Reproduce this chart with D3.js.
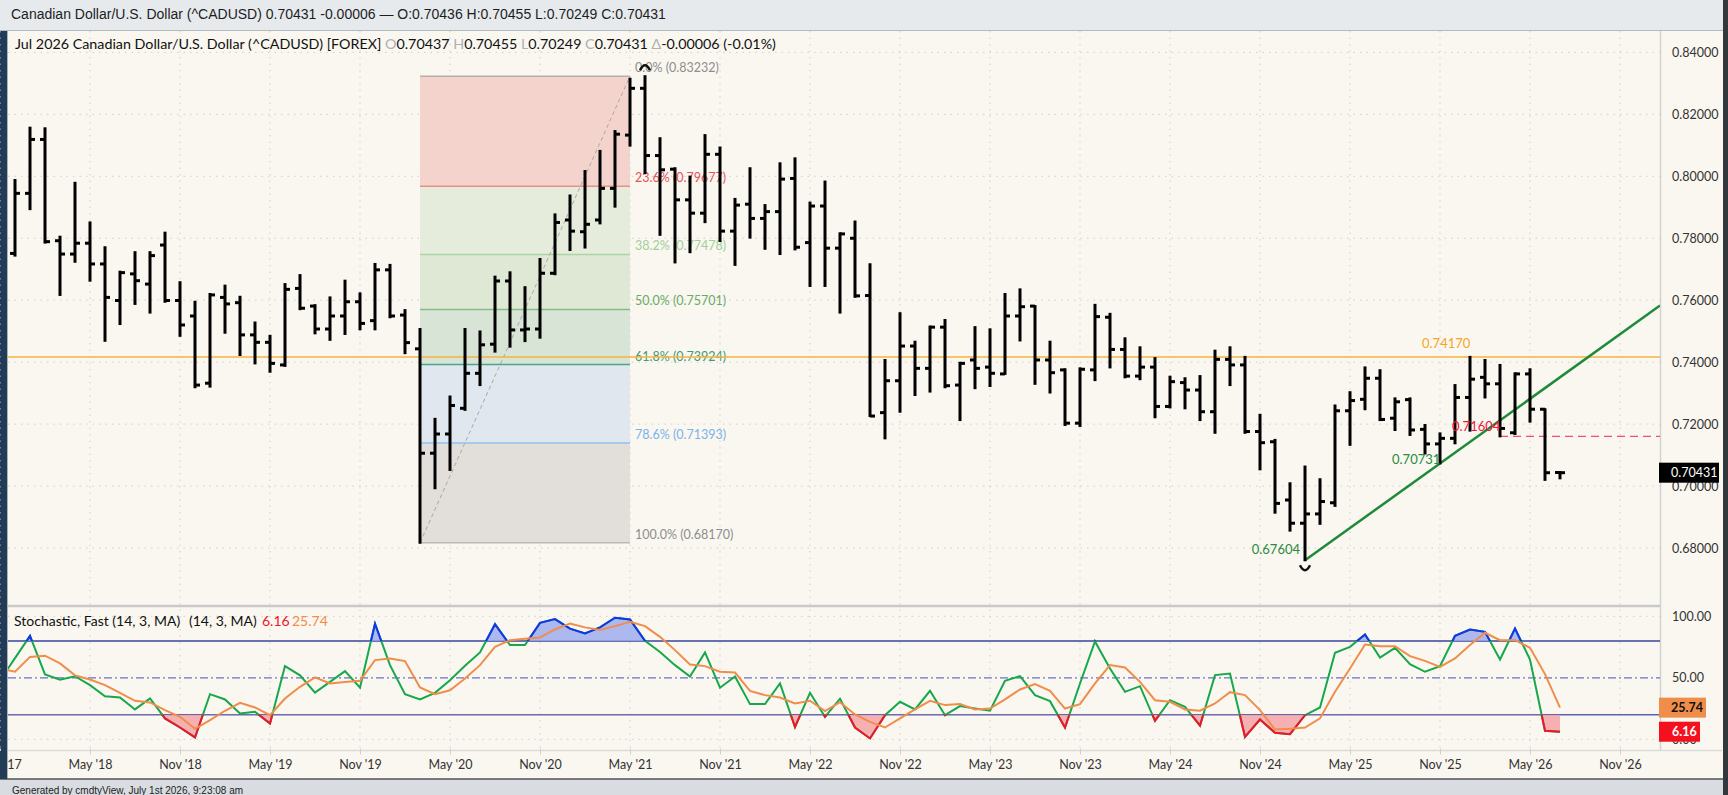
<!DOCTYPE html>
<html>
<head>
<meta charset="utf-8">
<script src="https://cdn.jsdelivr.net/npm/d3@7"></script>
<style>
  body { margin: 0; background: #d9dde1; overflow: hidden; }
  svg { display: block; font-family: Lato, "Liberation Sans", sans-serif; }
</style>
</head>
<body>
<svg id="chart" width="1728" height="795"></svg>
<script>
// monthly bars, Dec 2017 .. Jul 2026 (month index 1..104, Nov 2017 = 0)
const barOpen = [0.7751,0.7945,0.8119,0.7792,0.7749,0.7784,0.7717,0.7599,0.7685,0.7652,0.7778,0.7599,0.7549,0.7332,0.7609,0.7592,0.7488,0.7464,0.7391,0.7638,0.7581,0.7507,0.7549,0.7595,0.7534,0.7698,0.7552,0.7443,0.7106,0.7168,0.7251,0.7364,0.7458,0.7662,0.7504,0.7507,0.7687,0.7859,0.7821,0.7859,0.7961,0.8133,0.8284,0.8067,0.8023,0.7924,0.7881,0.8071,0.7823,0.7910,0.7864,0.7886,0.7993,0.7786,0.7904,0.7768,0.7800,0.7615,0.7237,0.7340,0.7452,0.7380,0.7513,0.7326,0.7407,0.7384,0.7362,0.7549,0.7581,0.7407,0.7375,0.7203,0.7375,0.7545,0.7441,0.7355,0.7384,0.7257,0.7334,0.7310,0.7240,0.7409,0.7391,0.7176,0.7143,0.6955,0.6880,0.6910,0.6946,0.7243,0.7280,0.7348,0.7219,0.7279,0.7183,0.7136,0.7154,0.7286,0.7351,0.7330,0.7172,0.7362,0.7248,0.70437];
const barHigh = [0.7988,0.8157,0.8155,0.7805,0.7979,0.7851,0.7771,0.7692,0.7755,0.7755,0.7818,0.7658,0.7595,0.7620,0.7647,0.7611,0.7528,0.7485,0.7652,0.7681,0.7584,0.7609,0.7663,0.7622,0.7717,0.7714,0.7568,0.7507,0.7217,0.7289,0.7507,0.7499,0.7676,0.7690,0.7642,0.7733,0.7877,0.7938,0.8017,0.8082,0.8146,0.8315,0.83232,0.8123,0.8026,0.7999,0.8133,0.8093,0.7927,0.8026,0.7907,0.8042,0.8058,0.7915,0.7983,0.7816,0.7854,0.7716,0.7407,0.7558,0.7466,0.7515,0.7536,0.7398,0.7513,0.7506,0.7620,0.7635,0.7581,0.7466,0.7377,0.7380,0.7585,0.7556,0.7477,0.7448,0.7413,0.7353,0.7348,0.7355,0.7437,0.7448,0.7417,0.7230,0.7149,0.7009,0.7063,0.7022,0.7260,0.7303,0.7383,0.7374,0.7283,0.7283,0.7197,0.7170,0.7326,0.7417,0.7407,0.7391,0.7364,0.7377,0.7248,0.70455];
const barLow = [0.7744,0.7894,0.7786,0.7617,0.7724,0.7663,0.7469,0.7523,0.7588,0.7560,0.7595,0.7485,0.7319,0.7321,0.7495,0.7423,0.7396,0.7369,0.7388,0.7571,0.7493,0.7472,0.7491,0.7506,0.7506,0.7545,0.7429,0.6817,0.6993,0.7052,0.7246,0.7326,0.7434,0.7450,0.7468,0.7479,0.7684,0.7762,0.7770,0.7848,0.7902,0.8099,0.8010,0.7811,0.7722,0.7755,0.7852,0.7791,0.7714,0.7802,0.7766,0.7749,0.7764,0.7646,0.7646,0.7560,0.7611,0.7226,0.7154,0.7240,0.7294,0.7305,0.7319,0.7213,0.7316,0.7323,0.7362,0.7470,0.7330,0.7302,0.7197,0.7194,0.7342,0.7383,0.7351,0.7345,0.7222,0.7254,0.7251,0.7213,0.7172,0.7326,0.7172,0.7054,0.6914,0.6856,0.67604,0.6878,0.6936,0.7133,0.7248,0.7213,0.7181,0.7165,0.7105,0.70731,0.7138,0.7179,0.7286,0.71604,0.7168,0.7208,0.7020,0.70249];
const barClose = [0.7945,0.8119,0.7789,0.7749,0.7784,0.7717,0.7609,0.7689,0.7663,0.7744,0.7599,0.7520,0.7326,0.7617,0.7588,0.7488,0.7464,0.7396,0.7635,0.7574,0.7507,0.7549,0.7595,0.7525,0.7698,0.7549,0.7463,0.7106,0.7168,0.7260,0.7364,0.7456,0.7662,0.7504,0.7507,0.7687,0.7851,0.7823,0.7845,0.7961,0.8136,0.8284,0.8067,0.8021,0.7924,0.7881,0.8071,0.7823,0.7907,0.7864,0.7886,0.7991,0.7771,0.7904,0.7768,0.7814,0.7614,0.7226,0.7340,0.7452,0.7380,0.7513,0.7324,0.7396,0.7380,0.7364,0.7549,0.7579,0.7407,0.7366,0.7203,0.7377,0.7547,0.7441,0.7355,0.7384,0.7257,0.7337,0.7310,0.7240,0.7409,0.7391,0.7176,0.7140,0.6944,0.6880,0.6910,0.6950,0.7243,0.7276,0.7348,0.7215,0.7272,0.7181,0.7136,0.7154,0.7286,0.7345,0.7330,0.7186,0.7362,0.7248,0.7043,0.70431];

// fast stochastic, Nov 2017 .. Jul 2026 (month index 0..104)
const stochK = [48,66,84,52.7,48.4,51.3,44,35,34,24.3,33.2,17,9.6,1.5,36.7,32.4,21,22.4,12.9,59.5,52,38,46.7,55.4,42,94,60.3,36.7,32.4,37.8,48,59.8,70.6,93.6,76.6,76.6,94.7,97.7,90,86,91,98.8,97.4,80,71,60.3,51,70.6,41.9,51,28.6,28.6,45.4,10,37.8,18.3,33,9.6,0.7,19.6,30.5,24.3,39.4,19.6,27,25,23.2,47.6,51.3,35.9,31,9.6,45.4,79.5,57.6,38.6,43.2,15,31.8,26.4,11.2,52.2,53.5,2,16.1,5.3,4.2,19.6,25.9,70.3,75.2,85.2,66.5,74.4,61.1,54.9,59.5,84.1,89.3,87.4,64.9,90,64.9,6.9,6.16];
const stochD = [57.6,55,67,68,61.7,52,48.6,44,37.8,31.3,30,23.7,18.3,8.5,15.6,23.2,29.7,25.9,19.6,33.2,42.7,50.3,45.4,46.5,47.6,64.4,65.7,63.6,42.1,36.7,39.9,49.5,60.3,75.2,80.6,81.7,82.8,89.3,94.2,91,88.8,92,95.5,92,83.3,72.5,60.8,59.5,54.9,54.3,39.4,35.9,34,29.1,31.3,22.9,30.2,20.2,14.2,9.6,17,24.3,31.3,27.8,28.6,24.3,25,32.4,40.5,44.9,39.4,25,28.6,45.4,60.3,58.4,46.7,31.8,30.5,24.3,23.2,29.1,38.3,35.9,23.7,8,8.5,9.6,17,38.6,57.6,77.1,75.7,75.7,67.6,63.8,58.9,65.7,76.6,86.6,80.6,80.6,74.4,53,25.74];

const priceTicks = [0.68, 0.70, 0.72, 0.74, 0.76, 0.78, 0.80, 0.82, 0.84];
const stochTicks = [0, 50, 100];
const monthTicks = d3.range(0, 109, 6);

// fibonacci retracement, Mar 2020 low to May 2021
const fibStart = 28, fibEnd = 42;
const fibRatios = ["0.0%", "23.6%", "38.2%", "50.0%", "61.8%", "78.6%", "100.0%"];
const fibPrices = [0.83232, 0.79677, 0.77478, 0.75701, 0.73924, 0.71393, 0.68170];

const resistance = 0.74170;
const breakLevel = { m: 100, p: 0.71604 };
const trendLow = { m: 87, p: 0.67604 };
const trendNext = { m: 96, p: 0.70731 };
const swingHigh = { m: 43, p: 0.83232 };

const lastPrice = 0.70431;
const lastK = 6.16, lastD = 25.74;

const svg = d3.select("#chart");
const left = 8, right = 1660;
const priceTop = 31, priceBottom = 606, stochBottom = 750.5;

const x = d3.scaleLinear().domain([0, 108]).range([0, 1620]);
const y = d3.scaleLinear().domain([0.68, 0.84]).range([548, 52.4]);
const ys = d3.scaleLinear().domain([0, 100]).range([739.3, 616.3]);

// frame
svg.append("rect").attr("width", 1728).attr("height", 795).attr("fill", "#d9dde1");
svg.append("rect").attr("x", 0).attr("y", 0).attr("width", 1728).attr("height", 31).attr("fill", "#e7eaed");
svg.append("line").attr("x1", 0).attr("x2", 1728).attr("y1", 30.5).attr("y2", 30.5).attr("stroke", "#b4b9be");
svg.append("rect").attr("x", 0).attr("y", 31).attr("width", 1723).attr("height", 748).attr("fill", "#f9f7f0");
svg.append("rect").attr("x", 0).attr("y", 31).attr("width", 7).attr("height", 748).attr("fill", "#223c58");
svg.append("line").attr("x1", 7.5).attr("x2", 7.5).attr("y1", 31).attr("y2", 779).attr("stroke", "#aab2ba");
svg.append("rect").attr("x", 1723).attr("y", 0).attr("width", 5).attr("height", 795).attr("fill", "#33383d");
svg.append("line").attr("x1", 0).attr("x2", 1723).attr("y1", 779).attr("y2", 779).attr("stroke", "#50555a").attr("stroke-width", 1.5);

svg.append("text").attr("x", 11).attr("y", 19)
  .attr("font-family", "Liberation Sans, Arial, sans-serif").attr("font-size", 14).attr("fill", "#1d1d1d")
  .text("Canadian Dollar/U.S. Dollar (^CADUSD) 0.70431 -0.00006 \u2014 O:0.70436 H:0.70455 L:0.70249 C:0.70431");

svg.append("text").attr("x", 12).attr("y", 794)
  .attr("font-family", "Liberation Sans, Arial, sans-serif").attr("font-size", 10).attr("fill", "#222")
  .text("Generated by cmdtyView, July 1st 2026, 9:23:08 am");

// panel borders
svg.append("line").attr("x1", left).attr("x2", right).attr("y1", priceBottom).attr("y2", priceBottom)
  .attr("stroke", "#c9c9c9").attr("stroke-width", 2.5);
svg.append("line").attr("x1", left).attr("x2", 1722).attr("y1", stochBottom).attr("y2", stochBottom)
  .attr("stroke", "#dadada").attr("stroke-width", 1.5);
svg.append("line").attr("x1", right + 0.5).attr("x2", right + 0.5).attr("y1", 31).attr("y2", stochBottom)
  .attr("stroke", "#d2d2d2").attr("stroke-width", 1.5);

const defs = svg.append("defs");
defs.append("clipPath").attr("id", "clipPrice").append("rect")
  .attr("x", left).attr("y", priceTop).attr("width", right - left).attr("height", priceBottom - priceTop - 2);
defs.append("clipPath").attr("id", "clipStoch").append("rect")
  .attr("x", left).attr("y", priceBottom + 1).attr("width", right - left).attr("height", stochBottom - priceBottom - 2);
defs.append("clipPath").attr("id", "clipOver").append("rect")
  .attr("x", left).attr("y", priceBottom).attr("width", right - left).attr("height", ys(80) - priceBottom);
defs.append("clipPath").attr("id", "clipUnder").append("rect")
  .attr("x", left).attr("y", ys(20)).attr("width", right - left).attr("height", stochBottom - ys(20));

// grid
const grid = svg.append("g").attr("stroke", "#cfcfcf").attr("stroke-dasharray", "1.5,5");
grid.selectAll(".vg").data(monthTicks).enter().append("line")
  .attr("x1", d => x(d)).attr("x2", d => x(d)).attr("y1", priceTop).attr("y2", stochBottom);
grid.selectAll(".hg").data(priceTicks).enter().append("line")
  .attr("x1", left).attr("x2", right).attr("y1", d => y(d)).attr("y2", d => y(d));
grid.selectAll(".sg").data([0, 100]).enter().append("line")
  .attr("x1", left).attr("x2", right).attr("y1", d => ys(d)).attr("y2", d => ys(d));

// price panel
const price = svg.append("g").attr("clip-path", "url(#clipPrice)");

const fibFill = ["#f4d3cd", "#e6ecdb", "#dfe8d4", "#d7e4d6", "#e0e7ee", "#e2dfdb"];
const fibLine = ["#b5aeac", "#e8918a", "#a9d5a2", "#86bb84", "#4ea48a", "#90c1f0", "#bdb8b4"];
const fibText = ["#8d8d8d", "#e8505a", "#9fcf98", "#6aaa68", "#3e9a78", "#79b3ec", "#8d8d8d"];

price.selectAll(".fibband").data(fibFill).enter().append("rect")
  .attr("x", x(fibStart)).attr("width", x(fibEnd) - x(fibStart))
  .attr("y", (d, i) => y(fibPrices[i]))
  .attr("height", (d, i) => y(fibPrices[i + 1]) - y(fibPrices[i]))
  .attr("fill", d => d);
price.selectAll(".fibline").data(fibPrices).enter().append("line")
  .attr("x1", x(fibStart)).attr("x2", x(fibEnd))
  .attr("y1", d => y(d)).attr("y2", d => y(d))
  .attr("stroke", (d, i) => fibLine[i]).attr("stroke-width", 1.5);
price.append("line")
  .attr("x1", x(fibStart)).attr("y1", y(fibPrices[6]))
  .attr("x2", x(fibEnd)).attr("y2", y(fibPrices[0]))
  .attr("stroke", "#a8a8a8").attr("stroke-dasharray", "4,3");
price.selectAll(".fibtext").data(fibPrices).enter().append("text")
  .attr("x", x(fibEnd) + 5).attr("y", d => y(d) - 4)
  .attr("font-size", 12.5).attr("fill", (d, i) => fibText[i])
  .text((d, i) => `${fibRatios[i]} (${d.toFixed(5)})`);

// resistance
price.append("line").attr("x1", left).attr("x2", right)
  .attr("y1", y(resistance)).attr("y2", y(resistance))
  .attr("stroke", "#f6b53c").attr("stroke-width", 1.5);
price.append("text").attr("x", 1422).attr("y", y(resistance) - 9)
  .attr("font-size", 13).attr("fill", "#f5a623").text(resistance.toFixed(5));

// break level
price.append("line").attr("x1", x(breakLevel.m)).attr("x2", right)
  .attr("y1", y(breakLevel.p)).attr("y2", y(breakLevel.p))
  .attr("stroke", "#f0506e").attr("stroke-width", 1.3).attr("stroke-dasharray", "8,5");

// trend line
const slope = (trendNext.p - trendLow.p) / (trendNext.m - trendLow.m);
const endM = x.invert(right);
price.append("line")
  .attr("x1", x(trendLow.m)).attr("y1", y(trendLow.p))
  .attr("x2", x(endM)).attr("y2", y(trendLow.p + slope * (endM - trendLow.m)))
  .attr("stroke", "#1f8a3a").attr("stroke-width", 2.5);

// OHLC bars
const bars = price.append("g").attr("stroke", "#000").attr("stroke-width", 3);
barOpen.forEach((o, i) => {
  const m = i + 1, cx = x(m);
  bars.append("line").attr("x1", cx).attr("x2", cx).attr("y1", y(barHigh[i]) - 1).attr("y2", y(barLow[i]) + 1);
  bars.append("line").attr("x1", cx - 5).attr("x2", cx).attr("y1", y(o)).attr("y2", y(o));
  bars.append("line").attr("x1", cx).attr("x2", cx + 5).attr("y1", y(barClose[i])).attr("y2", y(barClose[i]));
});

// swing markers
price.append("path")
  .attr("d", `M${x(swingHigh.m) - 5},${y(swingHigh.p) - 6} Q${x(swingHigh.m)},${y(swingHigh.p) - 16} ${x(swingHigh.m) + 5},${y(swingHigh.p) - 6}`)
  .attr("fill", "none").attr("stroke", "#111").attr("stroke-width", 2.5);
price.append("path")
  .attr("d", `M${x(trendLow.m) - 5},${y(trendLow.p) + 5} Q${x(trendLow.m)},${y(trendLow.p) + 15} ${x(trendLow.m) + 5},${y(trendLow.p) + 5}`)
  .attr("fill", "none").attr("stroke", "#111").attr("stroke-width", 2.5);

price.append("text").attr("x", x(trendLow.m) - 5).attr("y", y(trendLow.p) - 6)
  .attr("text-anchor", "end").attr("font-size", 13).attr("fill", "#2a8a3e").text(trendLow.p.toFixed(5));
price.append("text").attr("x", 1392).attr("y", y(trendNext.p) + 1)
  .attr("font-size", 13).attr("fill", "#2a8a3e").text(trendNext.p.toFixed(5));
price.append("text").attr("x", 1452).attr("y", y(breakLevel.p) - 5)
  .attr("font-size", 13).attr("fill", "#f0143c").text(breakLevel.p.toFixed(5));

// price legend
const leg = svg.append("text").attr("x", 15).attr("y", 49).attr("font-size", 14.3).attr("fill", "#111");
[["Jul 2026 Canadian Dollar/U.S. Dollar (^CADUSD) [FOREX] ", "#111"],
 ["O", "#b0b0b0"], ["0.70437 ", "#111"], ["H", "#b0b0b0"], ["0.70455 ", "#111"],
 ["L", "#b0b0b0"], ["0.70249 ", "#111"], ["C", "#b0b0b0"], ["0.70431 ", "#111"],
 ["\u0394", "#b0b0b0"], ["-0.00006 (-0.01%)", "#111"]]
  .forEach(([t, c]) => leg.append("tspan").attr("fill", c).text(t));

// price axis
const yAxis = svg.append("g").attr("transform", `translate(${right},0)`)
  .call(d3.axisRight(y).tickValues(priceTicks).tickFormat(d3.format(".5f")).tickSize(0).tickPadding(12));
yAxis.select(".domain").remove();
yAxis.selectAll("text").attr("font-family", "Lato, sans-serif").attr("font-size", 12.5).attr("fill", "#333");

const lp = svg.append("g").attr("transform", `translate(${right - 1},${y(lastPrice)})`);
lp.append("rect").attr("x", 0).attr("y", -10).attr("width", 60).attr("height", 20).attr("fill", "#000");
lp.append("text").attr("x", 12).attr("y", 4.5).attr("font-family", "Lato, sans-serif")
  .attr("font-size", 12.5).attr("fill", "#fff").text(lastPrice.toFixed(5));

// stochastic panel
const stoch = svg.append("g").attr("clip-path", "url(#clipStoch)");
stoch.append("line").attr("x1", left).attr("x2", right).attr("y1", ys(80)).attr("y2", ys(80))
  .attr("stroke", "#37449e").attr("stroke-width", 1.5);
stoch.append("line").attr("x1", left).attr("x2", right).attr("y1", ys(20)).attr("y2", ys(20))
  .attr("stroke", "#5d62ad").attr("stroke-width", 1.5);
stoch.append("line").attr("x1", left).attr("x2", right).attr("y1", ys(50)).attr("y2", ys(50))
  .attr("stroke", "#6b72c4").attr("stroke-width", 1.3).attr("stroke-dasharray", "8,3,2,3");

const idx = d3.range(stochK.length);
const areaOver = d3.area().x(i => x(i)).y0(ys(80)).y1(i => ys(stochK[i]));
const areaUnder = d3.area().x(i => x(i)).y0(ys(20)).y1(i => ys(stochK[i]));
const kLine = d3.line().x(i => x(i)).y(i => ys(stochK[i]));
const dLine = d3.line().x(i => x(i)).y(i => ys(stochD[i]));

stoch.append("path").attr("clip-path", "url(#clipOver)").attr("d", areaOver(idx))
  .attr("fill", "#9aa9ee").attr("fill-opacity", 0.8);
stoch.append("path").attr("clip-path", "url(#clipUnder)").attr("d", areaUnder(idx))
  .attr("fill", "#f7a3a6").attr("fill-opacity", 0.85);
stoch.append("path").attr("d", kLine(idx)).attr("fill", "none").attr("stroke", "#16a84a").attr("stroke-width", 2);
stoch.append("path").attr("clip-path", "url(#clipOver)").attr("d", kLine(idx))
  .attr("fill", "none").attr("stroke", "#1534f0").attr("stroke-width", 2);
stoch.append("path").attr("clip-path", "url(#clipUnder)").attr("d", kLine(idx))
  .attr("fill", "none").attr("stroke", "#f0142c").attr("stroke-width", 2);
stoch.append("path").attr("d", dLine(idx)).attr("fill", "none").attr("stroke", "#f08d4a").attr("stroke-width", 2);

const sleg = svg.append("g").attr("font-size", 14);
sleg.append("text").attr("x", 14).attr("y", 626).attr("fill", "#111").text("Stochastic, Fast (14, 3, MA)");
sleg.append("text").attr("x", 189).attr("y", 626).attr("fill", "#111").text("(14, 3, MA)");
sleg.append("text").attr("x", 262).attr("y", 626).attr("fill", "#f0142c").text(lastK.toFixed(2));
sleg.append("text").attr("x", 292).attr("y", 626).attr("fill", "#f08d4a").text(lastD.toFixed(2));

const sAxis = svg.append("g").attr("transform", `translate(${right},0)`)
  .call(d3.axisRight(ys).tickValues(stochTicks).tickFormat(d3.format(".2f")).tickSize(0).tickPadding(12));
sAxis.select(".domain").remove();
sAxis.selectAll("text").attr("font-family", "Lato, sans-serif").attr("font-size", 12.5).attr("fill", "#333");

const dBox = svg.append("g").attr("transform", `translate(${right - 1},${ys(lastD)})`);
dBox.append("rect").attr("y", -10).attr("width", 47).attr("height", 20).attr("fill", "#f08d4a");
dBox.append("text").attr("x", 12).attr("y", 4.5).attr("font-family", "Lato, sans-serif")
  .attr("font-size", 12.5).attr("font-weight", "bold").attr("fill", "#111").text(lastD.toFixed(2));
const kBox = svg.append("g").attr("transform", `translate(${right - 1},${ys(lastK)})`);
kBox.append("rect").attr("y", -10).attr("width", 41).attr("height", 20).attr("fill", "#f5101e");
kBox.append("text").attr("x", 13).attr("y", 4.5).attr("font-family", "Lato, sans-serif")
  .attr("font-size", 12.5).attr("font-weight", "bold").attr("fill", "#fff").text(lastK.toFixed(2));

// time axis
const start = new Date(2017, 10, 1);
const xAxis = svg.append("g").attr("transform", `translate(0,${stochBottom - 2})`)
  .call(d3.axisBottom(x).tickValues(monthTicks).tickSize(6).tickPadding(6)
    .tickFormat(m => d3.timeFormat("%b '%y")(d3.timeMonth.offset(start, m))));
xAxis.select(".domain").remove();
xAxis.selectAll("line").attr("stroke", "#d0d0d0");
xAxis.selectAll("text").attr("font-family", "Lato, sans-serif").attr("font-size", 12.5).attr("fill", "#333");

// cover the left edge of the time axis with the frame strip
svg.append("rect").attr("x", 0).attr("y", 751).attr("width", 7).attr("height", 28).attr("fill", "#223c58");
</script>
</body>
</html>
